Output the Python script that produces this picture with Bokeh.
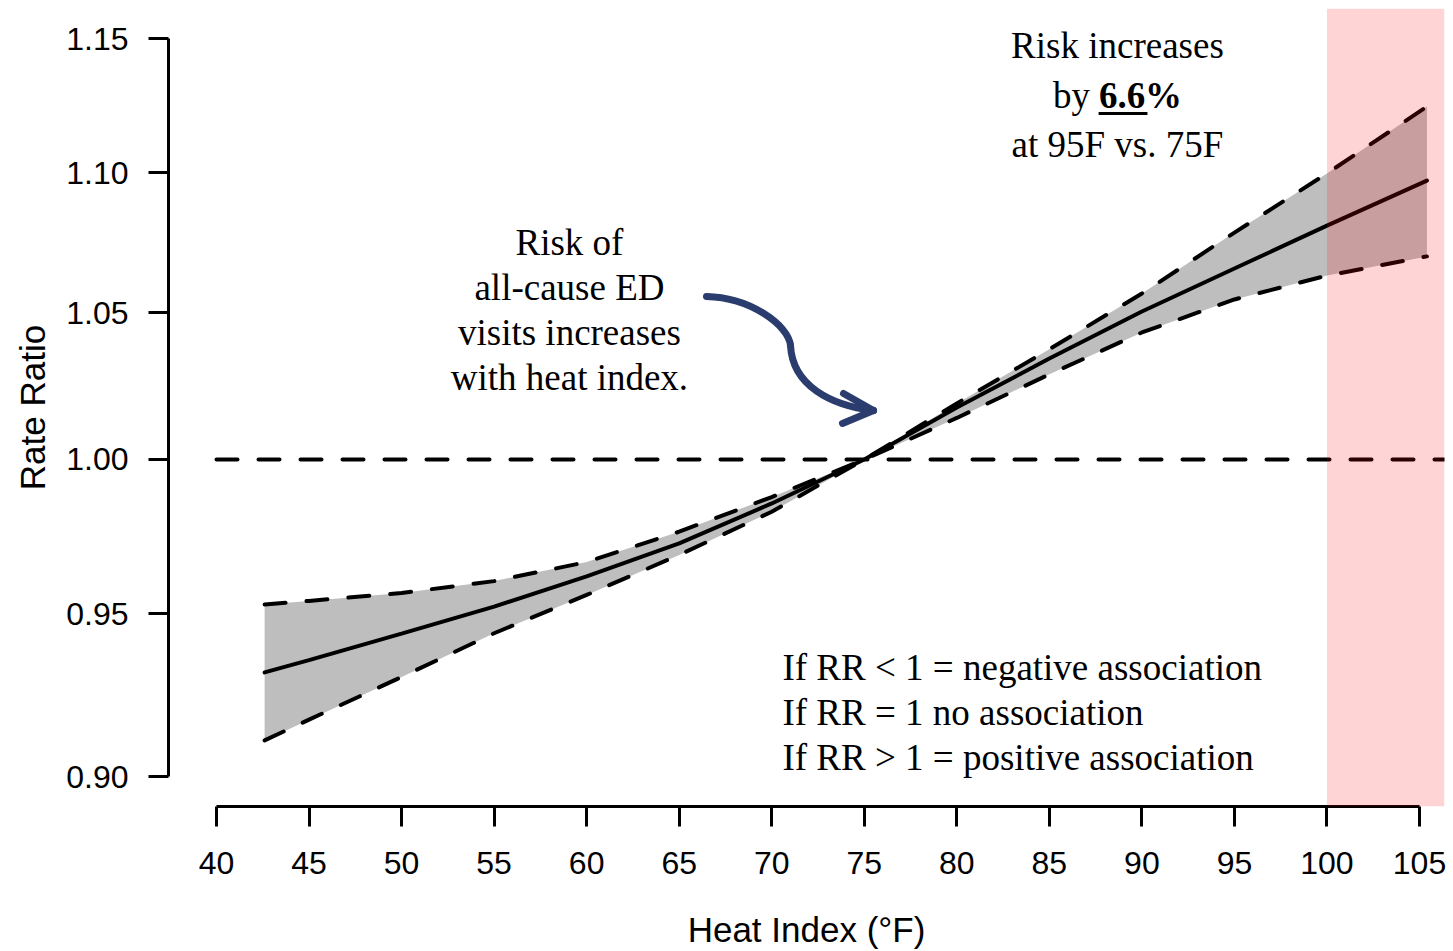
import math
from bokeh.plotting import figure
from bokeh.models import FixedTicker, PrintfTickFormatter, BoxAnnotation, Label, Range1d
from bokeh.embed import file_html
from bokeh.resources import INLINE

# ---------------- data ----------------
heat_index = [42.6, 45, 50, 55, 60, 65, 70, 75, 80, 85, 90, 95, 100, 105.4]
rate_ratio = [0.9317, 0.9355, 0.9438, 0.9523, 0.9619, 0.9725, 0.9855, 1.0,
              1.0174, 1.0341, 1.0504, 1.0655, 1.0808, 1.0971]
ci_upper = [0.9530, 0.9541, 0.9566, 0.9604, 0.9665, 0.9763, 0.9876, 1.0,
            1.0188, 1.0373, 1.0567, 1.0783, 1.0997, 1.1244]
ci_lower = [0.9109, 0.9172, 0.9303, 0.9439, 0.9560, 0.9688, 0.9828, 1.0,
            1.0139, 1.0287, 1.0431, 1.0546, 1.0630, 1.0698]

x_ticks = [40, 45, 50, 55, 60, 65, 70, 75, 80, 85, 90, 95, 100, 105]
y_ticks = [0.90, 0.95, 1.00, 1.05, 1.10, 1.15]
reference_rr = 1.0
reference_x = [40, 106.35]
extreme_heat_start = 100

SERIF = "Liberation Serif"
SANS = "Liberation Sans"

p = figure(width=1453, height=951,
           x_range=Range1d(37.4065, 106.35), y_range=Range1d(0.89111, 1.16164),
           y_axis_type="log", output_backend="svg", toolbar_location=None,
           min_border_left=168, min_border_right=9, min_border_top=8,
           min_border_bottom=145)
p.grid.visible = False
p.outline_line_color = None
p.background_fill_color = "white"
p.border_fill_color = "white"

# confidence band
p.varea(x=heat_index, y1=ci_lower, y2=ci_upper, fill_color="#BEBEBE")
# CI bounds
p.line(heat_index, ci_upper, line_color="black", line_width=4, line_dash="21 21", line_cap="round")
p.line(heat_index, ci_lower, line_color="black", line_width=4, line_dash="21 21", line_cap="round")
# estimate
p.line(heat_index, rate_ratio, line_color="black", line_width=4, line_cap="round")
# reference line RR = 1
p.line(reference_x, [reference_rr, reference_rr], line_color="black", line_width=4,
       line_dash="21 21", line_cap="round")

# curved arrow
arrow_col = "#2B3D6E"
p.bezier(x0=[66.475], y0=[1.05564], x1=[71.014], y1=[1.03860],
         cx0=[68.85], cy0=[1.05530], cx1=[70.91], cy1=[1.04559],
         line_color=arrow_col, line_width=7, line_cap="round")
p.bezier(x0=[71.014], y0=[1.03860], x1=[75.498], y1=[1.01641],
         cx0=[71.122], cy0=[1.02489], cx1=[73.175], cy1=[1.01810],
         line_color=arrow_col, line_width=7, line_cap="round")
p.segment(x0=[75.498, 75.498], y0=[1.01641, 1.01641],
          x1=[73.877, 73.823], y1=[1.02216, 1.01203],
          line_color=arrow_col, line_width=7, line_cap="round")

# extreme heat shading
p.add_layout(BoxAnnotation(left=extreme_heat_start, fill_color="red", fill_alpha=0.17,
                           line_color=None))

# axes
p.xaxis.ticker = FixedTicker(ticks=x_ticks)
p.yaxis.ticker = FixedTicker(ticks=y_ticks)
p.yaxis.formatter = PrintfTickFormatter(format="%.2f")
p.xaxis.bounds = (40, 105)
p.yaxis.bounds = (0.90, 1.15)
for ax in (p.xaxis[0], p.yaxis[0]):
    ax.axis_line_width = 3
    ax.axis_line_color = "black"
    ax.major_tick_line_width = 3
    ax.major_tick_line_color = "black"
    ax.major_tick_out = 20
    ax.major_tick_in = 0
    ax.minor_tick_line_color = None
    ax.major_label_text_font = SANS
    ax.major_label_text_font_size = "32px"
    ax.major_label_text_color = "black"
    ax.axis_label_text_font = SANS
    ax.axis_label_text_font_size = "35px"
    ax.axis_label_text_font_style = "normal"
    ax.axis_label_text_color = "black"
p.xaxis.major_label_standoff = 25
p.yaxis.major_label_standoff = 20
p.xaxis.axis_label = "Heat Index (°F)"
p.xaxis.axis_label_standoff = 33
p.yaxis.axis_label = "Rate Ratio"
p.yaxis.axis_label_standoff = 11

# annotations
def lab(x, y, text, align="center", style="normal"):
    p.add_layout(Label(x=x, y=y, text=text, text_font=SERIF, text_font_size="37px",
                       text_align=align, text_baseline="alphabetic",
                       text_font_style=style, text_color="black"))

lab(88.68, 1.14726, "Risk increases")
lab(85.196, 1.12855, "by ", align="left")
lab(87.68, 1.12855, "6.6", align="left", style="bold")
lab(90.17, 1.12855, "%", align="left", style="bold")
lab(88.68, 1.11032, "at 95F vs. 75F")
p.line([87.66, 90.30], [1.1218, 1.1218], line_color="black", line_width=3)

lab(59.07, 1.07475, "Risk of")
lab(59.07, 1.05881, "all-cause ED")
lab(59.07, 1.04309, "visits increases")
lab(59.07, 1.02762, "with heat index.")

lab(70.58, 0.93323, "If RR < 1 = negative association", align="left")
lab(70.58, 0.91939, "If RR = 1 no association", align="left")
lab(70.58, 0.90574, "If RR > 1 = positive association", align="left")

open("out.html", "w").write(file_html(p, INLINE))
